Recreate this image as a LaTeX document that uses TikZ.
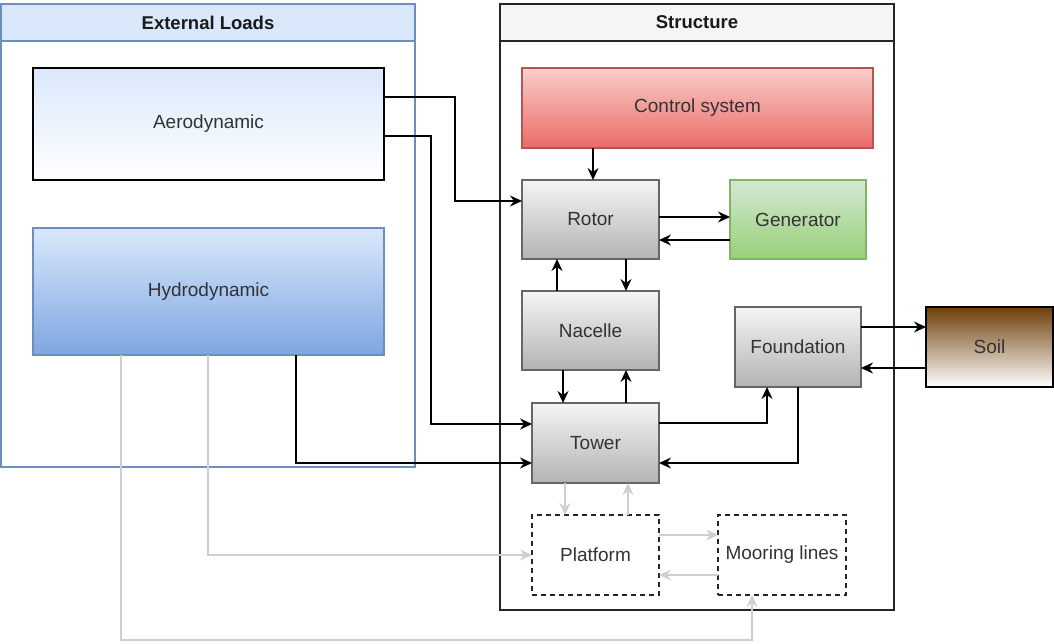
\documentclass[tikz,border=0pt]{standalone}
\usepackage{fontspec}
\setmainfont{Liberation Sans}
\usetikzlibrary{arrows.meta}
\definecolor{txt}{HTML}{333333}
\definecolor{hdr}{HTML}{1A1A1A}
\definecolor{blueb}{HTML}{6C8EBF}
\definecolor{bluel}{HTML}{DAE8FC}
\definecolor{blued}{HTML}{7EA6E0}
\definecolor{redl}{HTML}{F8CECC}
\definecolor{redd}{HTML}{EA6B66}
\definecolor{redb}{HTML}{B85450}
\definecolor{grayl}{HTML}{F5F5F5}
\definecolor{grayd}{HTML}{B3B3B3}
\definecolor{grayb}{HTML}{666666}
\definecolor{greenl}{HTML}{D5E8D4}
\definecolor{greend}{HTML}{97D077}
\definecolor{greenb}{HTML}{82B366}
\definecolor{brown}{HTML}{6F3E08}
\definecolor{lgray}{HTML}{CFCFCF}
\tikzset{
  box/.style={draw, line width=1.2pt, inner sep=0pt, outer sep=0pt, text=txt,
    font=\fontsize{19}{22}\selectfont, align=center},
  hdrbox/.style={draw, line width=1.2pt, inner sep=0pt, outer sep=0pt, text=hdr,
    font=\fontsize{18.5}{22}\selectfont\bfseries},
  graybox/.style={box, draw=grayb, top color=grayl, bottom color=grayd},
  dashbox/.style={box, draw=black!85, dash pattern=on 5pt off 4pt, fill=white},
  arr/.style={line width=1.6pt, -{Stealth[length=12pt,width=11pt,inset=4pt]}},
  garr/.style={arr, draw=lgray, color=lgray},
}
\begin{document}
\begin{tikzpicture}[x=1pt,y=-1pt]
\useasboundingbox (0,0) rectangle (1054,644);
% containers
\node[draw=blueb, line width=1.2pt, minimum width=414pt, minimum height=463pt, inner sep=0pt, outer sep=0pt] (ext) at (208,235.5) {};
\node[hdrbox, draw=blueb, fill=bluel, minimum width=414pt, minimum height=37pt] (exthdr) at (208,22.5) {External Loads};
\node[draw=black!85, line width=1.2pt, minimum width=394pt, minimum height=606pt, inner sep=0pt, outer sep=0pt] (str) at (697,307) {};
\node[hdrbox, draw=black!85, fill=grayl, minimum width=394pt, minimum height=37pt] (strhdr) at (697,22.5) {Structure};
% nodes
\node[box, draw=black, top color=bluel, bottom color=white, minimum width=351pt, minimum height=112pt] (aero) at (208.5,124) {Aerodynamic};
\node[box, draw=blueb, top color=bluel, bottom color=blued, minimum width=351pt, minimum height=127pt] (hydro) at (208.5,291.5) {Hydrodynamic};
\node[box, draw=redb, top color=redl, bottom color=redd, minimum width=351pt, minimum height=80pt] (ctrl) at (697.5,108) {Control system};
\node[graybox, minimum width=137pt, minimum height=79pt] (rotor) at (590.5,219.5) {Rotor};
\node[box, draw=greenb, top color=greenl, bottom color=greend, minimum width=136pt, minimum height=79pt] (gen) at (798,219.5) {Generator};
\node[graybox, minimum width=137pt, minimum height=79pt] (nacelle) at (590.5,330.5) {Nacelle};
\node[graybox, minimum width=126pt, minimum height=80pt] (found) at (798,347) {Foundation};
\node[box, draw=black, top color=brown, bottom color=white, minimum width=127pt, minimum height=80pt] (soil) at (989.5,347) {Soil};
\node[graybox, minimum width=127pt, minimum height=80pt] (tower) at (595.5,443) {Tower};
\node[dashbox, minimum width=127pt, minimum height=80pt] (platform) at (595.5,555) {Platform};
\node[dashbox, minimum width=128pt, minimum height=80pt] (mooring) at (782,555) {Mooring lines};
% connectors
\draw[arr] (aero.east |- 0,97) -- (455,97) -- (455,201) -- (rotor.west |- 0,201);
\draw[arr] (aero.east |- 0,136) -- (431,136) -- (431,424) -- (tower.west |- 0,424);
\draw[arr] (hydro.south -| 296,0) -- (296,463) -- (tower.west |- 0,463);
\draw[garr] (hydro.south -| 208,0) -- (208,555) -- (platform.west);
\draw[garr] (hydro.south -| 121,0) -- (121,640) -- (752,640) -- (mooring.south -| 752,0);
\draw[arr] (ctrl.south -| 593,0) -- (rotor.north -| 593,0);
\draw[arr] (rotor.east |- 0,217) -- (gen.west |- 0,217);
\draw[arr] (gen.west |- 0,240) -- (rotor.east |- 0,240);
\draw[arr] (nacelle.north -| 557,0) -- (rotor.south -| 557,0);
\draw[arr] (rotor.south -| 626,0) -- (nacelle.north -| 626,0);
\draw[arr] (nacelle.south -| 563,0) -- (tower.north -| 563,0);
\draw[arr] (tower.north -| 626,0) -- (nacelle.south -| 626,0);
\draw[arr] (tower.east |- 0,423) -- (767,423) -- (found.south -| 767,0);
\draw[arr] (found.south -| 798,0) -- (798,463) -- (tower.east |- 0,463);
\draw[arr] (found.east |- 0,327) -- (soil.west |- 0,327);
\draw[arr] (soil.west |- 0,368) -- (found.east |- 0,368);
\draw[garr] (tower.south -| 565,0) -- (platform.north -| 565,0);
\draw[garr] (platform.north -| 628,0) -- (tower.south -| 628,0);
\draw[garr] (platform.east |- 0,535) -- (mooring.west |- 0,535);
\draw[garr] (mooring.west |- 0,575) -- (platform.east |- 0,575);
\end{tikzpicture}
\end{document}
